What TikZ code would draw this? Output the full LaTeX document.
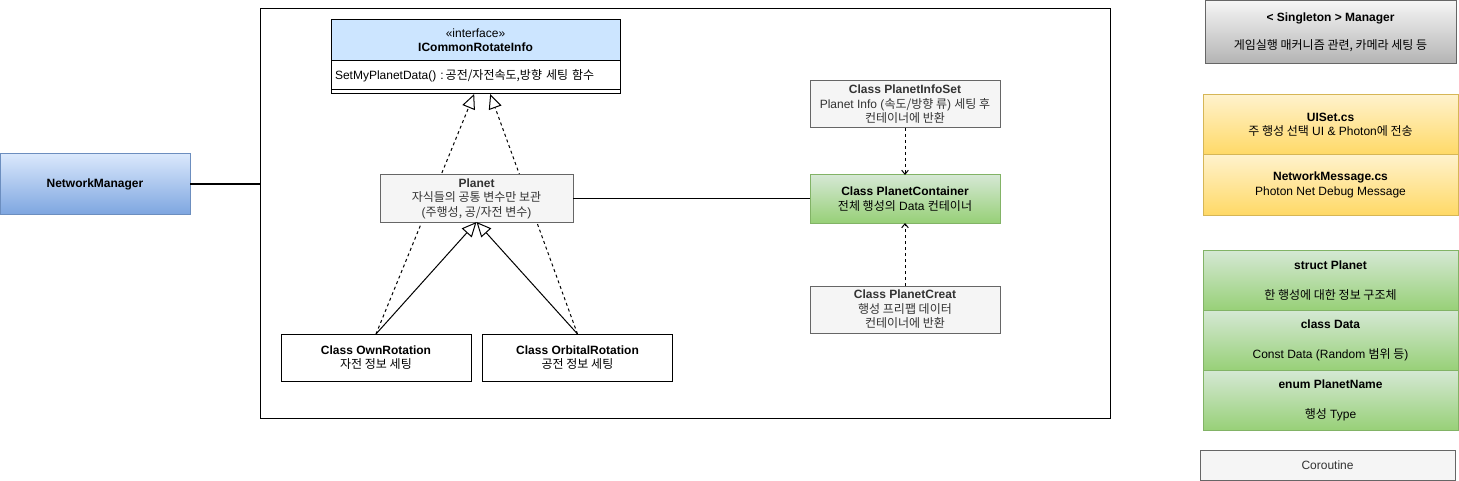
\documentclass[tikz,border=0pt]{standalone}
\usepackage{fontspec}
\setmainfont{Liberation Sans}
\newfontfamily\korfont{Noto Sans CJK KR}
\newcommand\kor[1]{{\korfont #1}}
\usetikzlibrary{positioning,arrows.meta}

\definecolor{grayline}{HTML}{666666}
\definecolor{grayfill}{HTML}{F5F5F5}
\definecolor{graytext}{HTML}{333333}
\definecolor{graydark}{HTML}{B3B3B3}
\definecolor{ifacefill}{HTML}{CCE5FF}
\definecolor{greenline}{HTML}{82B366}
\definecolor{greentop}{HTML}{D5E8D4}
\definecolor{greenbot}{HTML}{97D077}
\definecolor{yellowline}{HTML}{D6B656}
\definecolor{yellowtop}{HTML}{FFF2CC}
\definecolor{yellowbot}{HTML}{FFD966}
\definecolor{blueline}{HTML}{6C8EBF}
\definecolor{bluetop}{HTML}{DAE8FC}
\definecolor{bluebot}{HTML}{7EA6E0}

\tikzset{
	box/.style={draw, rectangle, inner sep=0pt, outer sep=0pt, line width=0.75pt, align=center, font=\fontsize{9}{10.8}\selectfont},
	plainbox/.style={box, fill=white, minimum width=142.5pt, minimum height=35.25pt},
	graybox/.style={box, draw=grayline, fill=grayfill, text=graytext, minimum width=142.5pt, minimum height=35.25pt},
	greenbox/.style={box, draw=greenline, top color=greentop, bottom color=greenbot},
	yellowbox/.style={box, draw=yellowline, top color=yellowtop, bottom color=yellowbot, minimum width=191.25pt, minimum height=45pt},
	bluebox/.style={box, draw=blueline, top color=bluetop, bottom color=bluebot},
	silverbox/.style={box, draw=grayline, top color=grayfill, bottom color=graydark},
	listbox/.style={greenbox, minimum width=191.25pt, minimum height=45pt},
	ifacepart/.style={box, fill=ifacefill, minimum width=216.75pt},
	realize/.style={line width=0.75pt, dash pattern=on 2.25pt off 2.25pt, -{Triangle[open, length=11pt, width=10pt]}},
	extend/.style={line width=0.75pt, -{Triangle[open, length=11pt, width=10pt]}},
	uses/.style={line width=0.75pt, dash pattern=on 2.25pt off 2.25pt, -{Straight Barb[length=3pt, width=5pt]}},
	link/.style={line width=0.75pt}
}

\begin{document}
\begin{tikzpicture}[x=0.75pt,y=0.75pt,yscale=-1,xscale=1]
	\useasboundingbox (0,0) rectangle (1459,481);

	% outer frame
	\node[box, minimum width=637.5pt, minimum height=306.75pt] (frame) at (685,213.5) {};

	% interface
	\node[ifacepart, minimum height=30.75pt] (ifhead) at (475.5,40.5) {«interface»\\\textbf{ICommonRotateInfo}};
	\node[ifacepart, fill=white, minimum height=21.75pt, text width=210.75pt, align=left] (ifattr) [below=0pt of ifhead] {SetMyPlanetData() :\hspace{1.5pt}\kor{공전/자전속도,방향 세팅 함수}};
	\node[ifacepart, fill=white, minimum height=3pt] (ifmeth) [below=0pt of ifattr] {};

	% classes
	\node[plainbox] (ownrot) at (376,357.5) {\textbf{Class OwnRotation}\\\kor{자전 정보 세팅}};
	\node[plainbox] (orbrot) at (577.5,357.5) {\textbf{Class OrbitalRotation}\\\kor{공전 정보 세팅}};

	\draw[realize] (ownrot.north) -- ([xshift=-1pt]ifmeth.south);
	\draw[realize] (orbrot.north) -- ([xshift=11pt]ifmeth.south);

	\node[graybox, minimum width=144.75pt] (planet) at (476.5,198.5) {\textbf{Planet}\\\kor{자식들의 공통 변수만 보관}\\(\kor{주행성, 공/자전 변수})};

	\draw[extend] (ownrot.north) -- (planet.south);
	\draw[extend] (orbrot.north) -- (planet.south);

	% container side
	\node[graybox] (infoset) at (905,104.5) {\textbf{Class PlanetInfoSet}\\Planet Info (\kor{속도/방향 류}) \kor{세팅 후}\\\kor{컨테이너에 반환}};
	\node[greenbox, minimum width=142.5pt, minimum height=36pt] (container) at (905,199) {\textbf{Class PlanetContainer}\\\kor{전체 행성의} Data \kor{컨테이너}};
	\node[graybox] (creat) at (905,309.5) {\textbf{Class PlanetCreat}\\\kor{행성 프리팹 데이터}\\\kor{컨테이너에 반환}};

	\draw[uses] (infoset) -- (container);
	\draw[uses] (creat) -- (container);
	\draw[link] (planet.east) -- (planet.east -| container.west);

	% network manager
	\node[bluebox, minimum width=142.5pt, minimum height=45pt] (netmgr) at (95,184) {\textbf{NetworkManager}};
	\draw[link] (netmgr.east) -- (netmgr.east -| frame.west);

	% right column
	\node[silverbox, minimum width=188.25pt, minimum height=47.25pt] (single) at (1330.5,32.5) {\textbf{< Singleton > Manager}\\[10.2pt]\kor{게임실행 매커니즘 관련, 카메라 세팅 등}};

	\node[yellowbox] (uiset) at (1330.5,125) {\textbf{UISet.cs}\\\kor{주 행성 선택} UI \& Photon\kor{에 전송}};
	\node[yellowbox] (netmsg) [below=0pt of uiset] {\textbf{NetworkMessage.cs}\\Photon Net Debug Message};

	\node[listbox] (struct) at (1330.5,280.5) {\textbf{struct Planet}\\[11.7pt]\kor{한 행성에 대한 정보 구조체}};
	\node[listbox] (data) [below=0pt of struct] {\textbf{class Data}\\[11.7pt]Const Data (Random \kor{범위 등})};
	\node[listbox] (enum) [below=0pt of data] {\textbf{enum PlanetName}\\[11.7pt]\kor{행성} Type};

	\node[graybox, minimum width=191.25pt, minimum height=22.5pt] (coro) at (1327.5,465) {Coroutine};
\end{tikzpicture}
\end{document}
